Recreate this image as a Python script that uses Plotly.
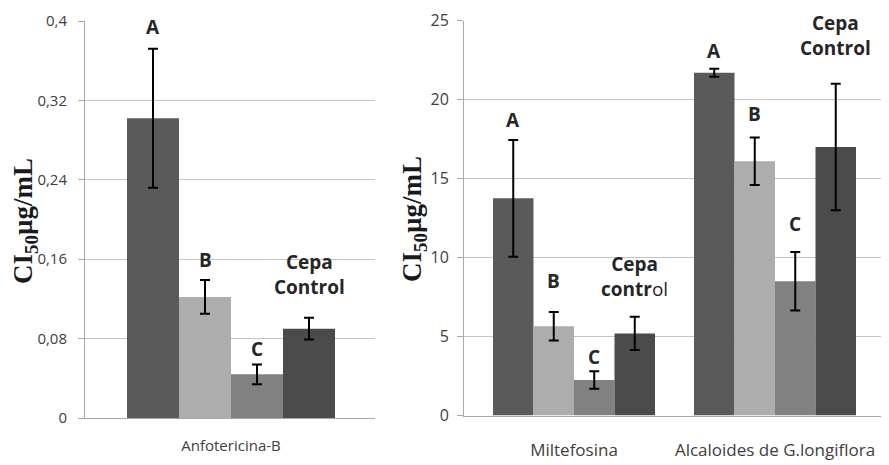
import plotly.graph_objects as go

# ---------------- data ----------------
series_names = ["A", "B", "C", "Cepa Control"]

left_categories = ["Anfotericina-B"]
left_values = {
    "A": [0.302],
    "B": [0.122],
    "C": [0.044],
    "Cepa Control": [0.090],
}
left_errors = {
    "A": [0.070],
    "B": [0.017],
    "C": [0.010],
    "Cepa Control": [0.011],
}
left_labels = ["A", "B", "C", "Cepa<br>Control"]

right_categories = ["Miltefosina", "Alcaloides de G.longiflora"]
right_values = {
    "A": [13.75, 21.7],
    "B": [5.65, 16.1],
    "C": [2.25, 8.5],
    "Cepa Control": [5.2, 17.0],
}
right_errors = {
    "A": [3.7, 0.25],
    "B": [0.9, 1.5],
    "C": [0.55, 1.85],
    "Cepa Control": [1.05, 4.0],
}
right_labels = [
    ["A", "B", "C", "Cepa<br>contr<span style='font-weight:normal'>ol</span>"],
    ["A", "B", "C", "Cepa<br>Control"],
]

left_ticks = [0, 0.08, 0.16, 0.24, 0.32, 0.4]
right_ticks = [0, 5, 10, 15, 20, 25]

# ---------------- style ----------------
colors = {"A": "#5a5a5a", "B": "#adadad", "C": "#818181", "Cepa Control": "#4b4b4b"}
bargap = 0.194
PAGE_OFF = 8                      # default body margin of the html page
W, H = 889 - PAGE_OFF, 465 - PAGE_OFF
label_font = "Open Sans, sans-serif"
tick_color = "#404040"
grid_color = "#c4c4c4"
axis_color = "#a8a8a8"


def fx(px):
    return (px - PAGE_OFF) / W


def fy(py):
    return 1 - (py - PAGE_OFF) / H


# pixel offsets of letter labels above error-bar tops (layout only)
left_label_shift = [22, 20, 15, 43]
right_label_shift = [[20, 31, 14, 40], [18, 24, 28, 48]]

fig = go.Figure()

for name in series_names:
    fig.add_trace(go.Bar(
        x=left_categories, y=left_values[name], name=name,
        marker=dict(color=colors[name], line=dict(width=0)),
        error_y=dict(type="data", array=left_errors[name], color="black",
                     thickness=2, width=5),
        xaxis="x", yaxis="y", showlegend=False,
    ))
for name in series_names:
    fig.add_trace(go.Bar(
        x=right_categories, y=right_values[name], name=name,
        marker=dict(color=colors[name], line=dict(width=0)),
        error_y=dict(type="data", array=right_errors[name], color="black",
                     thickness=2, width=5),
        xaxis="x2", yaxis="y2", showlegend=False,
    ))

n = len(series_names)
group_w = 1 - bargap
offsets = [(-(n - 1) / 2 + i) * group_w / n for i in range(n)]

annotations = []
for i, name in enumerate(series_names):
    top = left_values[name][0] + left_errors[name][0]
    annotations.append(dict(
        x=0 + offsets[i], y=top, xref="x", yref="y", text="<b>%s</b>" % left_labels[i],
        showarrow=False, yanchor="middle", yshift=left_label_shift[i],
        font=dict(family=label_font, size=19, color="#262626"),
    ))
for c in range(len(right_categories)):
    for i, name in enumerate(series_names):
        top = right_values[name][c] + right_errors[name][c]
        annotations.append(dict(
            x=c + offsets[i], y=top, xref="x2", yref="y2",
            text="<b>%s</b>" % right_labels[c][i],
            showarrow=False, yanchor="middle", yshift=right_label_shift[c][i],
            font=dict(family=label_font, size=19, color="#262626"),
        ))

title_text = "<b>CI<sub>50</sub>µg/mL</b>"
title_font = dict(family="Liberation Serif, Times New Roman, serif", size=27, color="#1a1a1a")
annotations.append(dict(x=fx(25), y=fy(221), xref="paper", yref="paper", text=title_text,
                        textangle=-90, showarrow=False, font=title_font, borderpad=0,
                        xanchor="center", yanchor="middle"))
annotations.append(dict(x=fx(414), y=fy(219), xref="paper", yref="paper", text=title_text,
                        textangle=-90, showarrow=False, font=title_font, borderpad=0,
                        xanchor="center", yanchor="middle"))

tickfont_left = dict(family=label_font, size=15, color=tick_color)
tickfont_right = dict(family=label_font, size=16, color=tick_color)
catfont_right = dict(family=label_font, size=17, color=tick_color)

left_x0, left_x1 = 85, 375
right_x0, right_x1 = 464, 889
left_y0, left_y1 = 418, 21
right_y0, right_y1 = 415.5, 20.7

# left: bar group centred at 231 px, category width 258 px
cat_w_left = 208 / group_w
lr0 = (left_x0 - 231) / cat_w_left
lr1 = (left_x1 - 231) / cat_w_left
# right: category centres at 574 and 775 px
cat_w_right = 201
rr0 = (right_x0 - 574) / cat_w_right
rr1 = (right_x1 - 574) / cat_w_right

fig.update_layout(
    width=W, height=H,
    margin=dict(l=0, r=0, t=0, b=0, autoexpand=False),
    paper_bgcolor="white", plot_bgcolor="white",
    barmode="group", bargap=bargap, bargroupgap=0,
    separators=",.",
    showlegend=False,
    annotations=annotations,
    xaxis=dict(domain=[fx(left_x0), fx(left_x1)], range=[lr0, lr1], type="category",
               showline=True, linecolor=axis_color, linewidth=1, showgrid=False,
               ticks="", tickfont=tickfont_left, anchor="y", automargin=False,
               ticklabelstandoff=14),
    yaxis=dict(domain=[fy(left_y0), fy(left_y1)], range=[0, 0.4],
               tickvals=left_ticks, showline=True, linecolor=axis_color, linewidth=1,
               showgrid=True, gridcolor=grid_color, gridwidth=1, zeroline=False,
               ticks="outside", ticklen=6, tickcolor=axis_color, tickfont=tickfont_left,
               anchor="x", automargin=False, ticklabelstandoff=8),
    xaxis2=dict(domain=[fx(right_x0), min(1.0, fx(right_x1))], range=[rr0, rr1], type="category",
                showline=True, linecolor=axis_color, linewidth=1, showgrid=False,
                ticks="", tickfont=catfont_right, anchor="y2", automargin=False,
                ticklabelstandoff=19),
    yaxis2=dict(domain=[fy(right_y0), fy(right_y1)], range=[0, 25],
                tickvals=right_ticks, showline=True, linecolor=axis_color, linewidth=1,
                showgrid=True, gridcolor=grid_color, gridwidth=1, zeroline=False,
                ticks="outside", ticklen=6, tickcolor=axis_color, tickfont=tickfont_right,
                anchor="x2", automargin=False, ticklabelstandoff=5),
    shapes=[
        dict(type="line", xref="x domain", yref="y", x0=0, x1=0, y0=0, y1=-7,
             ysizemode="pixel", yanchor=0, line=dict(color=axis_color, width=1)),
        dict(type="line", xref="x domain", yref="y", x0=1, x1=1, y0=0, y1=-7,
             ysizemode="pixel", yanchor=0, line=dict(color=axis_color, width=1)),
    ],
)

fig.write_html("out.html")
